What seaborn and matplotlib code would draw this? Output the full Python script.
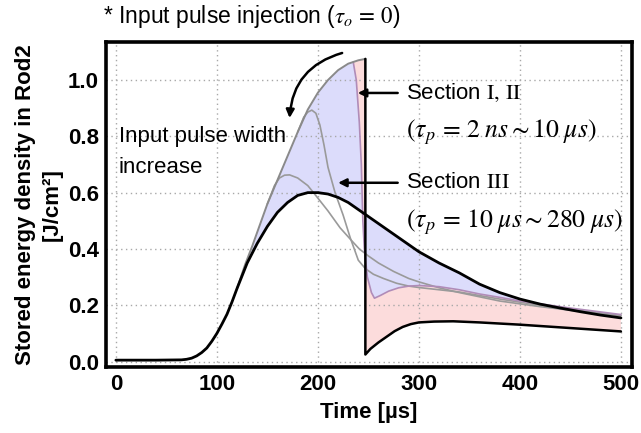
import numpy as np
import matplotlib
matplotlib.use("Agg")
import matplotlib.pyplot as plt
import seaborn as sns

# Stored energy density in Rod2 versus time for different input pulse widths
# Longest pulse (tau_p = 280 us)
t_280us = [0, 40, 65, 70, 75, 80, 85, 90, 95, 100, 105, 110, 115, 120, 130, 140,
           150, 160, 170, 180, 190, 200, 210, 220, 230, 240, 250, 260, 270, 280,
           290, 300, 320, 340, 360, 380, 400, 420, 440, 460, 480, 500]
e_280us = [0.005, 0.005, 0.006, 0.008, 0.012, 0.02, 0.032, 0.048, 0.072, 0.10,
           0.133, 0.168, 0.212, 0.26, 0.35, 0.42, 0.48, 0.53, 0.565, 0.59, 0.60,
           0.60, 0.595, 0.583, 0.565, 0.54, 0.515, 0.49, 0.465, 0.44, 0.415, 0.39,
           0.35, 0.315, 0.275, 0.245, 0.222, 0.204, 0.19, 0.177, 0.165, 0.155]

# Common rising edge of the short pulses
t_rise = [120, 128, 135, 140, 150, 160, 170, 180, 190, 200, 210, 220, 230, 235, 240, 247]
e_rise = [0.26, 0.345, 0.41, 0.46, 0.56, 0.645, 0.73, 0.815, 0.895, 0.955, 1.0,
          1.035, 1.058, 1.064, 1.07, 1.075]

# Shortest pulse (tau_p = 2 ns): drop at extraction and recovery
t_2ns = [247, 247, 252, 260, 268, 276, 284, 292, 300, 315, 334, 360, 400, 450, 500]
e_2ns = [1.075, 0.025, 0.045, 0.068, 0.088, 0.108, 0.123, 0.133, 0.139, 0.142,
         0.143, 0.139, 0.131, 0.119, 0.107]

# tau_p = 10 us
t_10us = [235, 238, 241, 243, 244.5, 246, 249, 253, 256, 262, 270, 280, 290, 300,
          320, 340, 360, 380, 400, 450, 500]
e_10us = [1.064, 1.0, 0.85, 0.70, 0.50, 0.40, 0.30, 0.245, 0.225, 0.235, 0.25,
          0.262, 0.268, 0.27, 0.266, 0.255, 0.24, 0.228, 0.215, 0.19, 0.167]

# Intermediate pulse widths
t_mid1 = [180, 186, 190, 194, 198, 202, 206, 210, 217, 225, 232, 240, 247, 255,
          265, 278, 290, 300, 340, 380, 420, 460, 500]
e_mid1 = [0.815, 0.868, 0.886, 0.893, 0.882, 0.84, 0.77, 0.69, 0.60, 0.52, 0.44,
          0.36, 0.33, 0.31, 0.295, 0.278, 0.268, 0.263, 0.247, 0.222, 0.2, 0.181, 0.164]

t_mid2 = [150, 157, 162, 167, 172, 180, 190, 199, 210, 222, 232, 241, 250, 260,
          275, 290, 300, 320, 340, 380, 420, 460, 500]
e_mid2 = [0.56, 0.625, 0.652, 0.662, 0.663, 0.652, 0.625, 0.585, 0.535, 0.475,
          0.435, 0.40, 0.375, 0.35, 0.32, 0.295, 0.283, 0.262, 0.245, 0.215, 0.195,
          0.178, 0.163]

x_ticks = [0, 100, 200, 300, 400, 500]
y_ticks = [0.0, 0.2, 0.4, 0.6, 0.8, 1.0]

sns.set_style("white")
plt.rcParams["font.family"] = ["Liberation Sans", "DejaVu Sans"]
plt.rcParams["mathtext.fontset"] = "stix"
plt.rcParams["text.color"] = "black"
plt.rcParams["axes.labelcolor"] = "black"
plt.rcParams["xtick.color"] = "black"
plt.rcParams["ytick.color"] = "black"

fig = plt.figure(figsize=(6.41, 4.33), dpi=100)
ax = fig.add_axes([0.165, 0.152, 0.821, 0.751])

BLUE = "#dcdcfb"
PINK = "#fcdcdc"

tr, er = np.array(t_rise), np.array(e_rise)
tb, eb = np.array(t_280us), np.array(e_280us)

# Section III band: between the 10 us curve and the 280 us curve
m_up = tr <= 235
m_lo = tb >= 120
ax.fill(np.concatenate([tr[m_up], t_10us, tb[m_lo][::-1]]),
        np.concatenate([er[m_up], e_10us, eb[m_lo][::-1]]),
        color=BLUE, lw=0, zorder=1)

# Section I, II band: between the 2 ns curve and the 10 us curve
m_top = tr >= 235
ax.fill(np.concatenate([tr[m_top], t_2ns, t_10us[::-1]]),
        np.concatenate([er[m_top], e_2ns, e_10us[::-1]]),
        color=PINK, lw=0, zorder=1)

ax.set_axisbelow("line")
ax.grid(True, ls=(0, (1, 2.5)), color="#a8a8a8", lw=1.0)

kw = dict(ax=ax, sort=False, estimator=None, legend=False)
sns.lineplot(x=t_mid2, y=e_mid2, color="#9a9a9a", lw=1.2, **kw)
sns.lineplot(x=t_mid1, y=e_mid1, color="#9a9a9a", lw=1.2, **kw)
sns.lineplot(x=t_10us, y=e_10us, color="#b08cb8", lw=1.2, **kw)
sns.lineplot(x=t_rise, y=e_rise, color="#8a8a8a", lw=1.4, **kw)
sns.lineplot(x=t_2ns, y=e_2ns, color="black", lw=1.8, **kw)
sns.lineplot(x=t_280us, y=e_280us, color="black", lw=2.0, **kw)

ax.set_xlim(-10, 511)
ax.set_ylim(-0.02, 1.135)
ax.set_xticks(x_ticks)
ax.set_yticks(y_ticks)
ax.set_xticklabels([str(v) for v in x_ticks], fontsize=16, fontweight="bold")
ax.set_yticklabels([f"{v:.1f}" for v in y_ticks], fontsize=16, fontweight="bold")
ax.tick_params(direction="in", length=3, width=1.5, pad=5, colors="black")
for s in ax.spines.values():
    s.set_linewidth(2.6)
    s.set_color("black")

ax.set_xlabel("Time [µs]", fontsize=16, fontweight="bold", labelpad=5)
ax.set_ylabel("Stored energy density in Rod2\n[J/cm²]", fontsize=16,
              fontweight="bold", linespacing=1.3, labelpad=4)

fig.text(103 / 641, 1 - 17 / 433, r"* Input pulse injection ($\tau_o\,=\,0$)",
         fontsize=16.5, ha="left", va="center")

ax.text(3, 0.80, "Input pulse width", fontsize=16, va="center")
ax.text(3, 0.688, "increase", fontsize=16, va="center")

ax.text(287, 0.954, r"Section $\mathrm{I,\,II}$", fontsize=16, va="center")
ax.text(287, 0.816, r"$(\tau_p\,=\,2\;ns\sim 10\;\mu s)$", fontsize=18.5, va="center")
ax.text(287, 0.635, r"Section $\mathrm{III}$", fontsize=16, va="center")
ax.text(287, 0.496, r"$(\tau_p\,=\,10\;\mu s\sim 280\;\mu s)$", fontsize=18.5, va="center")

arrow = dict(arrowstyle="-|>", color="black", lw=1.8, mutation_scale=12,
             shrinkA=0, shrinkB=0)
ax.annotate("", xy=(239.5, 0.954), xytext=(279, 0.954), arrowprops=arrow)
ax.annotate("", xy=(220, 0.635), xytext=(279, 0.635), arrowprops=arrow)
ax.annotate("", xy=(172, 0.865), xytext=(224, 1.096),
            arrowprops=dict(arrow, connectionstyle="arc3,rad=0.35"))

fig.savefig("out.png", dpi=100)
